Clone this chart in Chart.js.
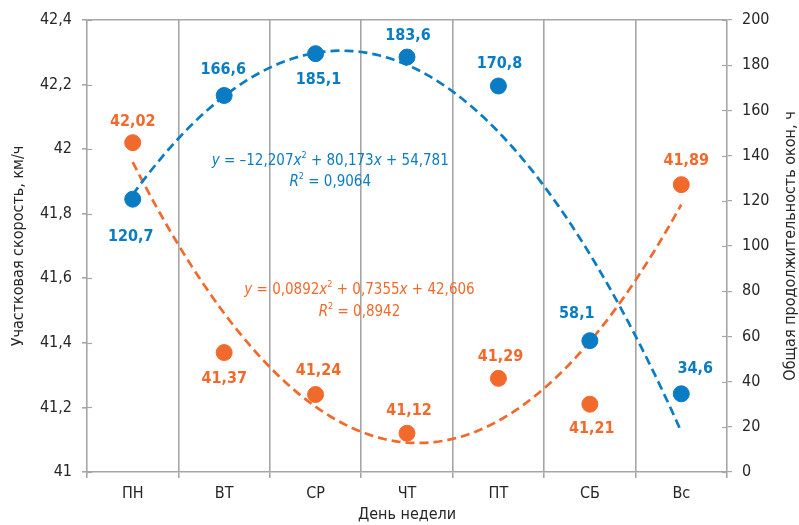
<!DOCTYPE html>
<html><head><meta charset="utf-8">
<script src="https://cdn.jsdelivr.net/npm/chart.js@4.4.0/dist/chart.umd.min.js"></script>
<style>html,body{margin:0;padding:0;background:#fff}#wrap{width:799px;height:525px}</style>
</head><body><div id="wrap"><canvas id="c" width="799" height="525"></canvas></div>
<script>
// ---- data ----
const categories = ['ПН','ВТ','СР','ЧТ','ПТ','СБ','Вс'];
const speedValues = [42.02, 41.37, 41.24, 41.12, 41.29, 41.21, 41.89];      // left axis, км/ч
const windowValues = [120.7, 166.6, 185.1, 183.6, 170.8, 58.1, 34.6];       // right axis, ч
const speedTicks = [41, 41.2, 41.4, 41.6, 41.8, 42, 42.2, 42.4];
const windowTicks = [0, 20, 40, 60, 80, 100, 120, 140, 160, 180, 200];
const speedTrendCoef = [0.0892, -0.7355, 42.606];   // a, b, c of the shown polynomial trend
const windowTrendCoef = [-12.207, 80.173, 54.781];
const speedEquation = [['y','i'],[' = 0,0892',''],['x','i'],['2','s'],[' + 0,7355',''],['x','i'],[' + 42,606','']];
const speedR2 = [['R','i'],['2','s'],[' = 0,8942','']];
const windowEquation = [['y','i'],[' = \u201312,207',''],['x','i'],['2','s'],[' + 80,173',''],['x','i'],[' + 54,781','']];
const windowR2 = [['R','i'],['2','s'],[' = 0,9064','']];
const leftTitle = 'Участковая скорость, км/ч';
const rightTitle = 'Общая продолжительность окон, ч';
const bottomTitle = 'День недели';

// ---- label placement (pixel offsets from each marker) ----
const speedLabelOffset = [[0,-21],[0,26],[3,-24],[2,-22],[2,-22],[2,25],[5,-24]];
const windowLabelOffset = [[-2,38],[-1,-26],[3,26],[1,-21],[1,-22],[-13,-27],[14,-25]];

const BLUE = '#0a7cc4', ORANGE = '#f26a2b', GRID = '#a6a6a6', TXT = '#262626';
const FONT = "'Liberation Sans Narrow','DejaVu Sans Condensed','Roboto Condensed',Roboto,sans-serif";

function trend(coef){
  const pts = [];
  for (let k = 0; k <= 120; k++) {
    const x = 1 + k * 0.05;
    pts.push({x, y: coef[0]*x*x + coef[1]*x + coef[2]});
  }
  return pts;
}
const fmt = v => String(Math.round(v*100)/100).replace('.', ',');

function drawRich(ctx, segs, cx, cy, color, size){
  const parts = segs.map(([t, st]) => {
    const f = st === 's' ? `${Math.round(size*0.62)}px ${FONT}` : `${st==='i'?'italic ':''}${size}px ${FONT}`;
    ctx.font = f;
    return {t, f, st, w: ctx.measureText(t).width};
  });
  const total = parts.reduce((a,p)=>a+p.w,0);
  let x = cx - total/2;
  ctx.fillStyle = color; ctx.textAlign = 'left'; ctx.textBaseline = 'middle';
  parts.forEach(p => { ctx.font = p.f; ctx.fillText(p.t, x, p.st==='s' ? cy - size*0.35 : cy); x += p.w; });
}

const extras = {
  id: 'extras',
  afterDraw(chart){
    const ctx = chart.ctx;
    const {x, y, y1} = chart.scales;
    const area = chart.chartArea;
    ctx.save();
    // inner halves of the cross ticks on both value axes
    ctx.strokeStyle = GRID; ctx.lineWidth = 1.2;
    y.ticks.forEach(t => { const p = Math.round(y.getPixelForValue(t.value))+0.5; ctx.beginPath(); ctx.moveTo(y.right, p); ctx.lineTo(y.right+5, p); ctx.stroke(); });
    y1.ticks.forEach(t => { const p = Math.round(y1.getPixelForValue(t.value))+0.5; ctx.beginPath(); ctx.moveTo(y1.left-5, p); ctx.lineTo(y1.left, p); ctx.stroke(); });
    // right axis title, reading upward like the left one
    ctx.save();
    ctx.translate(y1.right - 8, (area.top + area.bottom) / 2);
    ctx.rotate(-Math.PI / 2);
    ctx.font = `16px ${FONT}`; ctx.fillStyle = TXT; ctx.textAlign = 'center'; ctx.textBaseline = 'middle';
    ctx.fillText(rightTitle, 0, 0);
    ctx.restore();
    // equations
    drawRich(ctx, windowEquation, x.getPixelForValue(3.16), y1.getPixelForValue(137.5), BLUE, 15);
    drawRich(ctx, windowR2, x.getPixelForValue(3.16), y1.getPixelForValue(128.3), BLUE, 15);
    drawRich(ctx, speedEquation, x.getPixelForValue(3.48), y.getPixelForValue(41.564), ORANGE, 15);
    drawRich(ctx, speedR2, x.getPixelForValue(3.48), y.getPixelForValue(41.496), ORANGE, 15);
    // value labels
    ctx.font = `bold 16px ${FONT}`; ctx.textAlign = 'center'; ctx.textBaseline = 'middle';
    const lab = (dsIndex, vals, offs, color) => {
      const meta = chart.getDatasetMeta(dsIndex);
      ctx.fillStyle = color;
      meta.data.forEach((el, i) => ctx.fillText(fmt(vals[i]), el.x + offs[i][0], el.y + offs[i][1]));
    };
    lab(2, windowValues, windowLabelOffset, BLUE);
    lab(3, speedValues, speedLabelOffset, ORANGE);
    ctx.restore();
  }
};

new Chart(document.getElementById('c'), {
  type: 'scatter',
  data: {
    datasets: [
      {type:'line', data: trend(windowTrendCoef), yAxisID:'y1', borderColor: BLUE, borderWidth: 2.7, borderDash:[9,5], pointRadius:0, fill:false, tension:0, order: 3},
      {type:'line', data: trend(speedTrendCoef), yAxisID:'y', borderColor: ORANGE, borderWidth: 2.7, borderDash:[9,5], pointRadius:0, fill:false, tension:0, order: 4},
      {data: windowValues.map((v,i)=>({x:i+1, y:v})), yAxisID:'y1', backgroundColor: BLUE, borderColor: BLUE, pointRadius: 8, pointHoverRadius: 8, showLine:false, order: 1},
      {data: speedValues.map((v,i)=>({x:i+1, y:v})), yAxisID:'y', backgroundColor: ORANGE, borderColor: ORANGE, pointRadius: 8, pointHoverRadius: 8, showLine:false, order: 2}
    ]
  },
  options: {
    responsive: false, animation: false, devicePixelRatio: 1,
    layout: {padding: {top: 20, left: 0, right: 0, bottom: 0}},
    plugins: {legend: {display:false}, tooltip: {enabled:false}},
    scales: {
      x: {
        type: 'linear', min: 0.5, max: 7.5,
        afterBuildTicks: s => { s.ticks = []; for (let k = 0; k <= 14; k++) s.ticks.push({value: 0.5 + k*0.5}); },
        afterFit: s => { s.height = 53; },
        grid: {
          color: c => (c.tick && Math.abs(c.tick.value % 1 - 0.5) < 1e-6 && c.tick.value > 0.6 && c.tick.value < 7.4) ? GRID : 'rgba(0,0,0,0)',
          tickColor: c => (c.tick && Math.abs(c.tick.value % 1 - 0.5) < 1e-6) ? GRID : 'rgba(0,0,0,0)',
          tickLength: 6, lineWidth: 1.6
        },
        border: {color: GRID, width: 1.6},
        ticks: {
          autoSkip: false, maxRotation: 0, padding: 6, color: TXT, font: {family: FONT, size: 16},
          callback: v => Number.isInteger(v) ? categories[v-1] : ''
        },
        title: {display: true, text: bottomTitle, color: TXT, font: {family: FONT, size: 16}, padding: {top: 0, bottom: 1}}
      },
      y: {
        type: 'linear', position: 'left', min: 41, max: 42.4,
        afterBuildTicks: s => { s.ticks = speedTicks.map(v => ({value: v})); },
        afterFit: s => { s.width = 87; },
        grid: {
          color: c => (c.index === speedTicks.length - 1) ? GRID : 'rgba(0,0,0,0)',
          tickColor: GRID, tickLength: 5, lineWidth: 1.6
        },
        border: {color: GRID, width: 1.6},
        ticks: {padding: 10, color: TXT, font: {family: FONT, size: 16}, callback: v => fmt(v)},
        title: {display: true, text: leftTitle, color: TXT, font: {family: FONT, size: 16}, padding: {top: 9, bottom: 0}}
      },
      y1: {
        type: 'linear', position: 'right', min: 0, max: 200,
        afterBuildTicks: s => { s.ticks = windowTicks.map(v => ({value: v})); },
        afterFit: s => { s.width = 72; },
        grid: {drawOnChartArea: false, tickColor: GRID, tickLength: 5, lineWidth: 1.2},
        border: {color: GRID, width: 1.6},
        ticks: {padding: 10, color: TXT, font: {family: FONT, size: 16}, callback: v => String(v)},
        title: {display: false}
      }
    }
  },
  plugins: [extras]
});
</script></body></html>
